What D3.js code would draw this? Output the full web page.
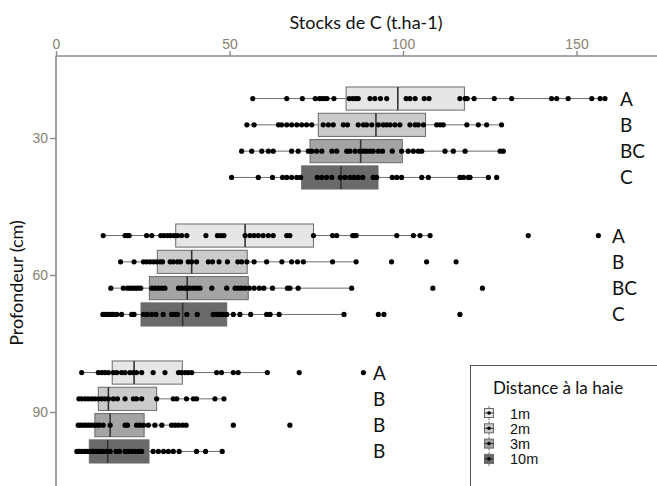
<!DOCTYPE html>
<html>
<head>
<meta charset="utf-8">
<script src="https://cdn.jsdelivr.net/npm/d3@7"></script>
<style>
body{margin:0;background:#fff;}
svg{display:block;}
</style>
</head>
<body>
<div id="Main_Part"></div>
<script>
// depths and hedge distances
var depths = [30, 60, 90];
var distances = ["1m", "2m", "3m", "10m"];
var xTicks = [0, 50, 100, 150];
var yTicks = [30, 60, 90];

// significance letters
var letters30 = ["A", "B", "BC", "C"];
var letters60 = ["A", "B", "BC", "C"];
var letters90 = ["A", "B", "B", "B"];

// box stats per depth (1m, 2m, 3m, 10m)
var q1_30 = [83.6, 75.6, 73.2, 70.8];
var med_30 = [98.5, 92.2, 87.8, 82.1];
var q3_30 = [117.7, 106.5, 99.8, 92.8];
var q1_60 = [34.5, 29.2, 26.9, 24.5];
var med_60 = [54.5, 39.1, 37.8, 36.5];
var q3_60 = [74.2, 55.1, 55.4, 49.2];
var q1_90 = [16.2, 12.2, 11.2, 9.6];
var med_90 = [22.5, 15.1, 15.6, 14.9];
var q3_90 = [36.4, 29.0, 25.4, 26.8];

// raw points
var pts30_1m = [56.7,66.5,71.0,74.7,75.9,76.6,77.4,78.1,80.1,84.5,85.5,86.4,87.1,90.5,91.9,93.5,95.3,100.9,102.0,103.5,106.1,107.5,116.4,117.9,118.5,120.5,126.3,131.3,142.8,144.3,147.6,154.4,156.8,158.2];
var pts30_2m = [55.0,57.1,64.1,65.0,66.5,67.9,69.4,70.8,72.2,73.7,77.0,78.5,79.9,82.8,84.0,87.1,88.6,89.5,91.0,92.9,94.3,95.3,96.3,97.7,99.1,102.0,103.5,104.4,105.9,109.7,110.7,111.6,118.4,121.7,124.1,128.4];
var pts30_3m = [53.5,56.4,59.3,61.2,62.6,67.9,69.8,72.7,73.7,75.1,76.6,79.5,80.9,83.8,84.7,86.2,87.6,88.6,89.5,90.5,91.4,92.9,94.1,96.9,99.6,101.5,103.0,104.4,105.4,112.1,114.5,117.9,128.0,128.9];
var pts30_10m = [50.6,58.3,62.4,65.3,66.5,67.9,69.4,70.5,75.3,76.6,78.0,79.5,81.9,83.3,84.7,85.9,87.1,88.4,91.4,92.4,96.9,98.2,99.6,105.4,107.3,116.4,117.4,118.8,119.3,124.6,127.0];
var pts60_1m = [13.6,19.9,20.6,21.1,26.1,27.6,30.2,31.1,32.1,33.0,34.0,35.0,36.2,37.7,43.2,46.5,47.5,48.4,54.5,55.9,57.1,58.3,59.7,61.2,62.6,66.5,67.4,74.2,79.7,80.9,85.5,85.9,86.5,98.2,103.0,104.9,107.8,136.1,156.3];
var pts60_2m = [18.6,22.5,25.2,26.1,27.1,28.1,29.0,30.0,30.7,32.9,33.8,35.0,35.9,38.1,39.1,40.5,43.9,45.1,47.0,49.4,52.4,53.5,55.0,57.1,60.7,65.1,67.9,69.6,71.3,79.7,86.5,96.7,106.8,115.3];
var pts60_3m = [15.8,19.4,20.6,21.3,22.1,22.9,23.6,24.4,27.6,28.5,29.5,30.5,31.4,35.3,36.2,37.2,37.8,38.6,39.6,40.5,41.5,44.9,49.2,51.6,52.5,53.5,54.5,55.7,57.1,58.6,59.9,62.4,66.7,67.4,69.8,85.2,108.6,122.9];
var pts60_10m = [13.5,14.2,15.0,15.8,16.5,17.5,18.9,21.8,22.5,25.2,26.3,27.6,28.8,30.9,33.3,34.3,35.0,37.7,40.7,45.3,46.3,47.3,48.2,49.2,51.1,53.0,56.1,60.7,61.7,64.3,83.0,92.9,94.5,116.4];
var pts90_1m = [7.4,12.2,13.2,14.1,15.1,16.5,17.5,18.9,19.9,21.3,22.3,23.2,24.7,28.0,31.4,35.3,36.2,37.2,38.1,39.1,46.3,47.7,51.1,52.5,60.9,70.1,88.6];
var pts90_2m = [6.6,7.4,8.4,9.3,10.3,11.2,12.2,13.2,14.1,15.1,16.5,17.7,19.9,22.3,23.2,24.7,29.0,33.8,34.8,37.6,39.6,40.5,45.8,48.4];
var pts90_3m = [6.4,7.1,7.9,8.6,9.4,10.2,11.0,11.7,12.5,13.6,15.6,19.9,20.6,23.2,24.2,25.2,26.6,28.5,30.5,33.3,34.3,35.3,36.5,37.5,51.1,67.4];
var pts90_10m = [6.0,6.7,7.5,8.3,9.1,9.8,10.6,11.3,12.1,12.9,13.6,14.6,15.6,17.3,18.3,19.9,20.9,21.8,22.8,23.8,24.7,28.0,29.5,31.0,32.4,33.8,35.5,40.5,43.1,47.9];

var FillColors = ["#e6e6e6", "#cbcbcb", "#a4a4a4", "#6a6a6a"];
var Width = 657, Height = 486;
var CalibriLike = "Lato, 'Open Sans', sans-serif";
var ArialLike = "'Liberation Sans', Arial, sans-serif";

// assemble rows
var Rows = [];
var Stats = {30: [q1_30, med_30, q3_30, letters30], 60: [q1_60, med_60, q3_60, letters60], 90: [q1_90, med_90, q3_90, letters90]};
var Points = {30: [pts30_1m, pts30_2m, pts30_3m, pts30_10m], 60: [pts60_1m, pts60_2m, pts60_3m, pts60_10m], 90: [pts90_1m, pts90_2m, pts90_3m, pts90_10m]};
depths.forEach(function(d){
	distances.forEach(function(dist, i){
		var q1 = Stats[d][0][i], q3 = Stats[d][2][i], iqr = q3 - q1;
		var pts = Points[d][i];
		var inside = pts.filter(function(v){ return v >= q1 - 1.5*iqr && v <= q3 + 1.5*iqr; });
		Rows.push({depth: d, dist: dist, idx: i, q1: q1, med: Stats[d][1][i], q3: q3,
			lo: d3.min(inside), hi: d3.max(inside), pts: pts, letter: Stats[d][3][i]});
	});
});

var x = d3.scaleLinear().domain([0, 150]).range([56, 576.5]);
var y = d3.scaleLinear().domain([30, 90]).range([138, 412]);
var band = d3.scaleBand().domain(distances).range([-52.6, 52.6]);
var BoxH = band.bandwidth()*0.88;
function RowY(r){ return y(r.depth) + band(r.dist) + band.bandwidth()/2; }
var LetterX = {30: 620, 60: 612, 90: 373};

var svg = d3.select('#Main_Part')
	.append("svg")
	.attr("width", Width)
	.attr("height", Height);

// top axis
svg.append("line")
	.attr("x1", 56).attr("x2", Width)
	.attr("y1", 56).attr("y2", 56)
	.style("stroke", "#8a8a8a")
	.style("stroke-width", 1.6);

var xAxis = svg.append("g")
	.attr("transform", "translate(0,56)")
	.call(d3.axisTop(x).tickValues(xTicks).tickSize(5).tickPadding(2));
xAxis.select(".domain").remove();
xAxis.selectAll(".tick line").style("stroke", "#8a8a8a").style("stroke-width", 1.4);
xAxis.selectAll(".tick text")
	.style("font-family", ArialLike)
	.style("font-size", "14px")
	.style("fill", "#8a8070");

// left axis
svg.append("line")
	.attr("x1", 56).attr("x2", 56)
	.attr("y1", 56).attr("y2", Height)
	.style("stroke", "#8a8a8a")
	.style("stroke-width", 1.6);

var yAxis = svg.append("g")
	.attr("transform", "translate(56,0)")
	.call(d3.axisLeft(y).tickValues(yTicks).tickSize(6).tickPadding(2));
yAxis.select(".domain").remove();
yAxis.selectAll(".tick line").style("stroke", "#8a8a8a").style("stroke-width", 1.4);
yAxis.selectAll(".tick text")
	.style("font-family", ArialLike)
	.style("font-size", "14px")
	.style("fill", "#8a8070");

// axis titles
svg.append("text")
	.attr("x", 366)
	.attr("y", 29)
	.attr("text-anchor", "middle")
	.text("Stocks de C (t.ha-1)")
	.style("font-family", CalibriLike)
	.style("font-size", "18px")
	.style("fill", "#111");

svg.append("text")
	.attr("transform", "translate(23,283) rotate(-90)")
	.attr("text-anchor", "middle")
	.text("Profondeur (cm)")
	.style("font-family", CalibriLike)
	.style("font-size", "18px")
	.style("fill", "#111");

// whiskers
svg.append("g").selectAll("line")
	.data(Rows)
	.enter()
	.append("line")
	.attr("x1", function(r){ return x(r.lo); })
	.attr("x2", function(r){ return x(r.hi); })
	.attr("y1", RowY)
	.attr("y2", RowY)
	.style("stroke", "#6e6e6e")
	.style("stroke-width", 1);

// boxes
svg.append("g").selectAll("rect")
	.data(Rows)
	.enter()
	.append("rect")
	.attr("x", function(r){ return x(r.q1); })
	.attr("y", function(r){ return RowY(r) - BoxH/2; })
	.attr("width", function(r){ return x(r.q3) - x(r.q1); })
	.attr("height", BoxH)
	.style("fill", function(r){ return FillColors[r.idx]; })
	.style("stroke", "#6a6a6a")
	.style("stroke-width", 1);

// medians
svg.append("g").selectAll("line")
	.data(Rows)
	.enter()
	.append("line")
	.attr("x1", function(r){ return x(r.med); })
	.attr("x2", function(r){ return x(r.med); })
	.attr("y1", function(r){ return RowY(r) - BoxH/2; })
	.attr("y2", function(r){ return RowY(r) + BoxH/2; })
	.style("stroke", "#333")
	.style("stroke-width", 1.6);

// points
var PointData = [];
Rows.forEach(function(r){
	r.pts.forEach(function(v){ PointData.push({v: v, row: r}); });
});
svg.append("g").selectAll("circle")
	.data(PointData)
	.enter()
	.append("circle")
	.attr("cx", function(p){ return x(p.v); })
	.attr("cy", function(p){ return RowY(p.row); })
	.attr("r", 2.6)
	.style("fill", "#000");

// letters
svg.append("g").selectAll("text")
	.data(Rows)
	.enter()
	.append("text")
	.attr("x", function(r){ return LetterX[r.depth]; })
	.attr("y", function(r){ return RowY(r) + 7; })
	.text(function(r){ return r.letter; })
	.style("font-family", CalibriLike)
	.style("font-size", "19px")
	.style("fill", "#111");

// legend
var Legend = svg.append("g");
Legend.append("rect")
	.attr("x", 470.5)
	.attr("y", 365.5)
	.attr("width", 220)
	.attr("height", 160)
	.style("fill", "#fff")
	.style("stroke", "#555")
	.style("stroke-width", 1);

Legend.append("text")
	.attr("x", 493)
	.attr("y", 394)
	.text("Distance à la haie")
	.style("font-family", CalibriLike)
	.style("font-size", "17px")
	.style("fill", "#111");

var Keys = Legend.selectAll("g.key")
	.data(distances)
	.enter()
	.append("g")
	.attr("class", "key")
	.attr("transform", function(d, i){ return "translate(489," + (413 + i*15.3) + ")"; });

Keys.append("line")
	.attr("x1", 0).attr("x2", 0)
	.attr("y1", -7).attr("y2", 7)
	.style("stroke", "#6e6e6e");
Keys.append("rect")
	.attr("x", -4.5).attr("y", -4.5)
	.attr("width", 9).attr("height", 9)
	.style("fill", function(d, i){ return FillColors[i]; })
	.style("stroke", "#6a6a6a");
Keys.append("line")
	.attr("x1", -4.5).attr("x2", 4.5)
	.attr("y1", 0).attr("y2", 0)
	.style("stroke", "#333");
Keys.append("circle")
	.attr("r", 1.8)
	.style("fill", "#000");
Keys.append("text")
	.attr("x", 21)
	.attr("y", 5.5)
	.text(function(d){ return d; })
	.style("font-family", ArialLike)
	.style("font-size", "14.5px")
	.style("fill", "#111");
</script>
</body>
</html>
